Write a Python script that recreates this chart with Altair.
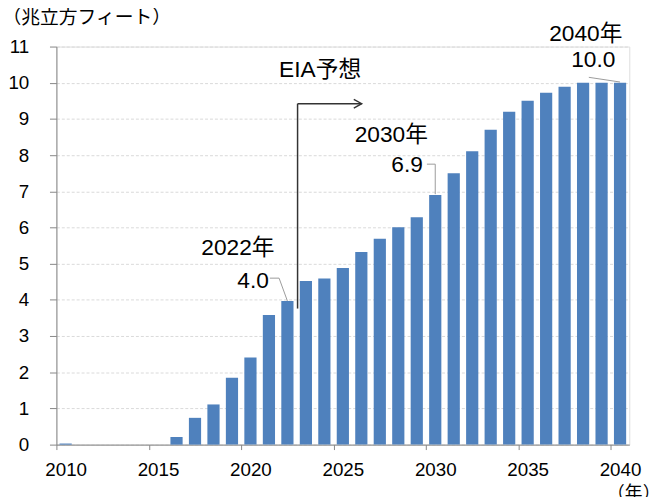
import altair as alt
import pandas as pd

# ---- data ----
years = list(range(2010, 2041))
values = [0.03, 0, 0, 0, 0, 0, 0.21, 0.74, 1.11, 1.85, 2.41, 3.58, 3.97, 4.52,
          4.59, 4.88, 5.32, 5.69, 6.01, 6.28, 6.90, 7.50, 8.11, 8.70, 9.20,
          9.50, 9.72, 9.89, 10.0, 10.0, 10.0]
tick_years = [2010, 2015, 2020, 2025, 2030, 2035, 2040]
y_ticks = list(range(0, 12))

# annotation labels (right aligned)
label_text = ["2022年", "4.0", "2030年", "6.9", "2040年", "10.0"]
label_x = [2021.3, 2021.0, 2029.6, 2029.33, 2040.13, 2039.75]
label_y = [5.43, 4.53, 8.54, 7.72, 11.35, 10.63]

# forecast label (left aligned)
eia_text = ["EIA予想"]
eia_x = [2021.55]
eia_y = [10.36]

# leader lines
lead_x1 = [2021.05, 2021.55, 2029.55, 2030.0, 2038.31]
lead_y1 = [4.60, 4.60, 7.75, 7.75, 10.15]
lead_x2 = [2021.55, 2022.0, 2030.0, 2030.0, 2040.0]
lead_y2 = [4.60, 3.97, 7.75, 6.92, 10.02]

# forecast arrow
arrow_x1 = [2022.55, 2022.55]
arrow_y1 = [3.76, 9.42]
arrow_x2 = [2022.55, 2026.02]
arrow_y2 = [9.42, 9.42]
head_x = [2026.02]
head_y = [9.42]

W, H = 580, 403
STEP = W / len(years)
FONT = "Liberation Sans, Noto Sans CJK JP, sans-serif"
JFONT = "Noto Sans CJK JP, sans-serif"

df = pd.DataFrame({"year": years, "value": values})
labels_df = pd.DataFrame({"x": label_x, "y": label_y, "t": label_text})
eia_df = pd.DataFrame({"x": eia_x, "y": eia_y, "t": eia_text})
lead_df = pd.DataFrame({"x1": lead_x1, "y1": lead_y1, "x2": lead_x2, "y2": lead_y2})
arrow_df = pd.DataFrame({"x1": arrow_x1, "y1": arrow_y1, "x2": arrow_x2, "y2": arrow_y2})
head_df = pd.DataFrame({"x": head_x, "y": head_y})

y_scale = alt.Scale(domain=[0, 11], nice=False, zero=True)
ax_scale = alt.Scale(domain=[2009.5, 2040.5], nice=False, zero=False)

bars = alt.Chart(df).mark_bar(color="#4F81BD").encode(
    x=alt.X(
        "year:O",
        scale=alt.Scale(paddingInner=0.34, paddingOuter=0.17),
        axis=alt.Axis(
            values=tick_years, labelAngle=0, tickOffset=-STEP / 2,
            labelOffset=STEP / 2, tickSize=5, labelPadding=11,
            labelFontSize=19, labelFont=FONT, labelColor="#000",
            domainColor="#868686", tickColor="#868686", grid=False,
            title="（年）", titleX=584, titleY=50, titleAlign="center",
            titleBaseline="middle", titleFontSize=18, titleFontWeight="normal",
            titleFont=JFONT, titleColor="#000",
        ),
    ),
    y=alt.Y(
        "value:Q",
        scale=y_scale,
        axis=alt.Axis(
            values=y_ticks, labelOverlap=False, tickSize=7,
            labelPadding=21, labelFontSize=19,
            labelFont=FONT, labelColor="#000", domainColor="#868686",
            tickColor="#868686", grid=True, gridColor="#D9D9D9",
            gridDash=[3, 2], gridWidth=1,
            title="（兆立方フィート）", titleAngle=0, titleX=-55, titleY=-29,
            titleAlign="left", titleBaseline="middle", titleFontSize=19,
            titleFontWeight="normal", titleFont=JFONT, titleColor="#000",
        ),
    ),
)

leads = alt.Chart(lead_df).mark_rule(color="#9A9A9A", strokeWidth=1).encode(
    x=alt.X("x1:Q", scale=ax_scale, axis=None),
    x2="x2:Q",
    y=alt.Y("y1:Q", scale=y_scale, axis=None),
    y2="y2:Q",
)

arrow = alt.Chart(arrow_df).mark_rule(color="#333333", strokeWidth=1.5).encode(
    x=alt.X("x1:Q", scale=ax_scale, axis=None),
    x2="x2:Q",
    y=alt.Y("y1:Q", scale=y_scale, axis=None),
    y2="y2:Q",
)

head = alt.Chart(head_df).mark_point(
    shape="M-1,-0.55L0,0L-1,0.55", filled=False, size=256,
    color="#333333", strokeWidth=1.4, opacity=1,
).encode(
    x=alt.X("x:Q", scale=ax_scale, axis=None),
    y=alt.Y("y:Q", scale=y_scale, axis=None),
)

texts = alt.Chart(labels_df).mark_text(
    align="right", baseline="middle", fontSize=23, font=FONT, color="#000"
).encode(
    x=alt.X("x:Q", scale=ax_scale, axis=None),
    y=alt.Y("y:Q", scale=y_scale, axis=None),
    text="t:N",
)

eia = alt.Chart(eia_df).mark_text(
    align="left", baseline="middle", fontSize=23, font=FONT, color="#000"
).encode(
    x=alt.X("x:Q", scale=ax_scale, axis=None),
    y=alt.Y("y:Q", scale=y_scale, axis=None),
    text="t:N",
)

ann = alt.layer(leads, arrow, head, texts, eia)

chart = alt.layer(bars, ann).resolve_scale(x="independent").resolve_axis(
    x="independent", y="independent"
).properties(
    width=W, height=H,
    autosize=alt.AutoSizeParams(type="none"),
    padding={"left": 49, "top": 36, "right": 24, "bottom": 50},
).configure_view(stroke=None).configure(background="white")

chart.save("out.html", embed_options={"renderer": "svg", "actions": False})
